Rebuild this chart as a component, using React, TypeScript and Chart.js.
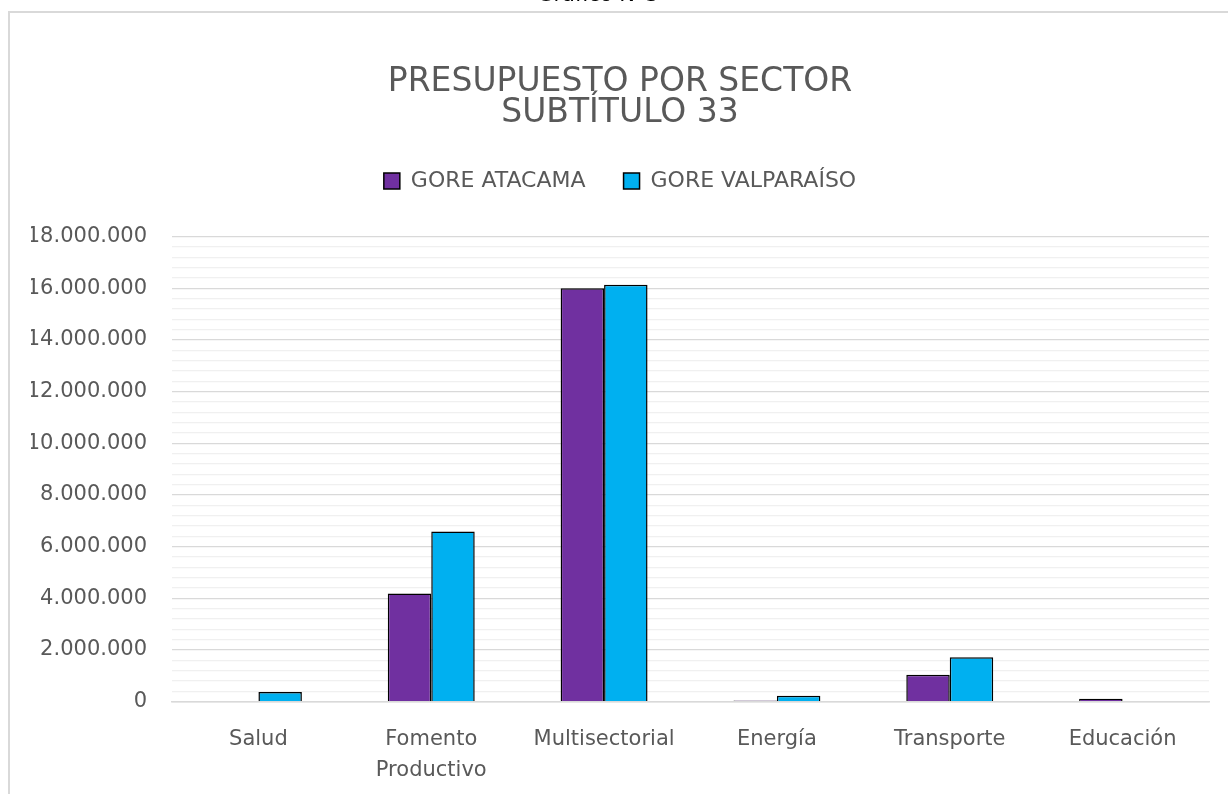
import React, { useEffect, useRef } from "react";
import { Chart, registerables } from "chart.js";

Chart.register(...registerables);

const categories: (string | string[])[] = [
  "Salud",
  ["Fomento", "Productivo"],
  "Multisectorial",
  "Energía",
  "Transporte",
  "Educación",
];
const goreAtacama = [0, 4190000, 16000000, 50000, 1040000, 110000];
const goreValparaiso = [380000, 6580000, 16130000, 230000, 1720000, 0];
const seriesNames = ["GORE ATACAMA", "GORE VALPARAÍSO"];
const titleLines = ["PRESUPUESTO POR SECTOR", "SUBTÍTULO 33"];
const yMax = 18000000;
const yMajorStep = 2000000;
const yMinorStep = 400000;

const FONT = "'DejaVu Sans', 'Open Sans', sans-serif";
const TEXT = "#595959";

const fmt = (v: number) =>
  Math.round(v)
    .toString()
    .replace(/\B(?=(\d{3})+(?!\d))/g, ".");

const legendGap = {
  id: "legendGap",
  beforeUpdate(chart: any) {
    const lg = chart.legend;
    if (lg && !lg._gapPatched) {
      const f = lg.fit;
      lg.fit = function () {
        f.call(this);
        this.height += 34.4;
      };
      lg._gapPatched = true;
    }
  },
};

export default function App() {
  const ref = useRef<HTMLCanvasElement | null>(null);

  useEffect(() => {
    if (!ref.current) return;
    const chart = new Chart(ref.current, {
      type: "bar",
      data: {
        labels: categories as any,
        datasets: [
          {
            label: seriesNames[0],
            data: goreAtacama,
            backgroundColor: "#7030A0",
            borderColor: "#000000",
            borderWidth: 1.5,
            categoryPercentage: 0.503,
            barPercentage: 1,
          },
          {
            label: seriesNames[1],
            data: goreValparaiso,
            backgroundColor: "#00B0F0",
            borderColor: "#000000",
            borderWidth: 1.5,
            categoryPercentage: 0.503,
            barPercentage: 1,
          },
        ],
      },
      options: {
        animation: false,
        responsive: false,
        maintainAspectRatio: false,
        layout: { padding: { left: 31, right: 19, top: 0, bottom: 0 } },
        plugins: {
          title: {
            display: true,
            text: titleLines,
            color: TEXT,
            font: { family: FONT, size: 33, weight: "normal", lineHeight: 0.94 },
            padding: { top: 66.5, bottom: 3.5 },
          },
          legend: {
            display: true,
            position: "top",
            labels: {
              color: TEXT,
              font: { family: FONT, size: 22 },
              boxWidth: 16,
              boxHeight: 16,
              padding: 38,
            },
          },
          tooltip: { enabled: false },
        },
        scales: {
          x: {
            grid: { display: false, drawTicks: false },
            border: { display: true, color: "#d9d9d9", width: 1.5 },
            ticks: {
              color: TEXT,
              font: { family: FONT, size: 21, lineHeight: 1.5 },
              padding: 22,
              maxRotation: 0,
              autoSkip: false,
            },
            afterFit: (s: any) => {
              s.height = 92.3;
            },
          },
          y: {
            min: 0,
            max: yMax,
            border: { display: false },
            grid: {
              drawTicks: false,
              lineWidth: 1.2,
              color: (c: any) =>
                c.tick && c.tick.value % yMajorStep === 0 ? "#d9d9d9" : "#f0f0f0",
            },
            ticks: {
              stepSize: yMinorStep,
              autoSkip: false,
              color: TEXT,
              font: { family: FONT, size: 21 },
              padding: 25,
              callback: (v: any) => (Number(v) % yMajorStep === 0 ? fmt(Number(v)) : ""),
            },
            afterFit: (s: any) => {
              s.width = 141;
            },
          },
        },
      },
      plugins: [legendGap],
    } as any);
    chart.update();
    return () => chart.destroy();
  }, []);

  return (
    <div>
      <div
        style={{
          position: "fixed",
          left: 498,
          width: 200,
          top: -16,
          lineHeight: "21px",
          fontSize: 21,
          fontFamily: FONT,
          textAlign: "center",
          color: "#000",
          whiteSpace: "nowrap",
        }}
      >
        Gráfico N°3
      </div>
      <div
        style={{
          position: "fixed",
          left: 8,
          top: 11,
          width: 1220,
          height: 790,
          borderTop: "2px solid #d9d9d9",
          borderLeft: "2px solid #d9d9d9",
          boxSizing: "border-box",
        }}
      />
      <canvas
        ref={ref}
        width={1228}
        height={794}
        style={{ position: "fixed", left: 0, top: 0, width: 1228, height: 794 }}
      />
    </div>
  );
}
